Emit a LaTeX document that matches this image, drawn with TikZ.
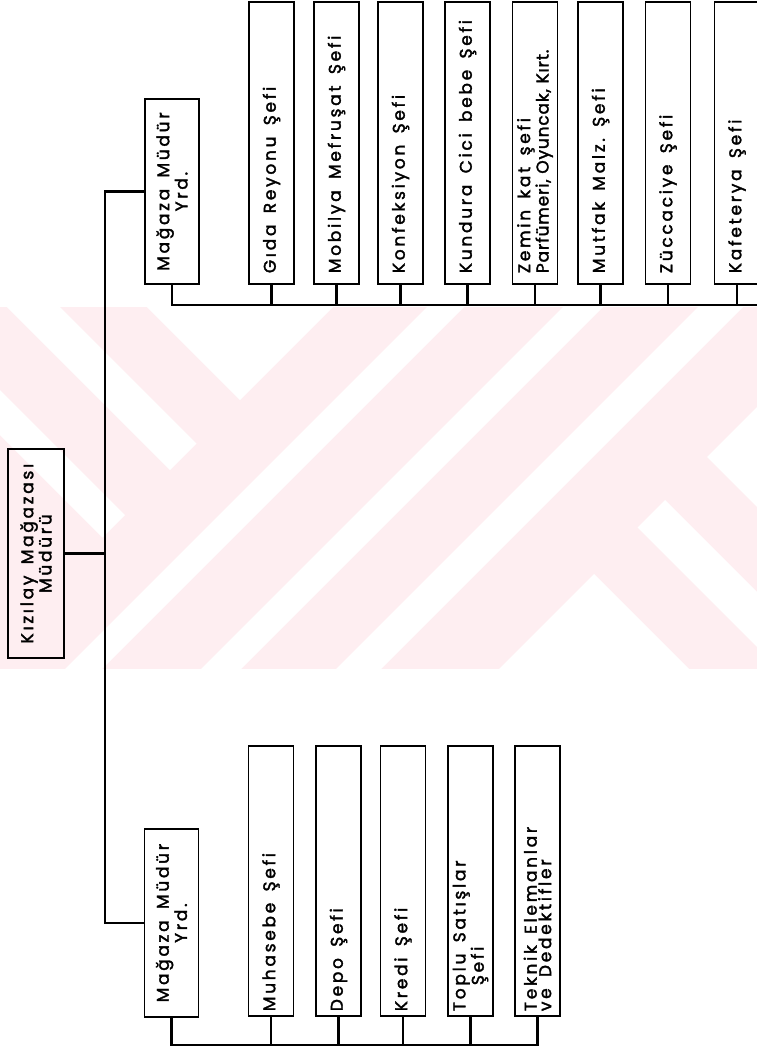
\documentclass[tikz,border=0pt]{standalone}
\usepackage{fontspec}
\newfontfamily\chartfont[LetterSpace=16, FakeBold=2]{Poppins}
\definecolor{wmpink}{RGB}{254,238,241}

\begin{document}
\begin{tikzpicture}[x=1pt, y=-1pt,
  box/.style={draw, line width=1.8pt, rotate=90, anchor=west, inner ysep=2pt,
    font=\chartfont\fontsize{17}{14.5}\selectfont},
  chef/.style={box, minimum width=282, text width=260, minimum height=45, inner xsep=11pt, align=left},
  subchef/.style={box, minimum width=270, text width=260, minimum height=45, inner xsep=5pt, align=left},
  deputy/.style={box, minimum width=#1, text width=#1-14pt, minimum height=54, inner xsep=7pt, align=center},
  link/.style={line width=2.6pt, line cap=rect}]
\useasboundingbox (0,0) rectangle (757,1054);

% watermark
\fill[wmpink] (0,307) rectangle (757,669);
\fill[white] (7,307) -- (60,307) -- (196.5,443.5) -- (170,470) -- cycle;
\fill[white] (147,307) -- (333,307) -- (240,400) -- cycle;
\fill[white] (0,390) -- (125,515) -- (102.5,537.5) -- (0,435) -- cycle;
\fill[white] (427,307) -- (464,307) -- (102,669) -- (65,669) -- cycle;
\fill[white] (563,307) -- (603,307) -- (241,669) -- (201,669) -- cycle;
\fill[white] (698,307) -- (743,307) -- (381,669) -- (336,669) -- cycle;
\fill[white] (757,407) -- (707,457) -- (757,507) -- cycle;
\fill[white] (665,500) -- (757,592) -- (757,647) -- (637.5,527.5) -- cycle;
\fill[white] (499,669) -- (594,574) -- (689,669) -- cycle;

\node[box, minimum width=209, text width=195, minimum height=56, inner xsep=7pt, align=center] (root) at (36,659) {Kızılay\ \ Mağazası\\Müdürü};

\node[deputy=185] (yrdtop) at (172,285) {Mağaza\ \ Müdür\\Yrd.};
\node[chef] (gida) at (271.5,285) {Gıda\ \ Reyonu\ \ Şefi};
\node[chef] (mobilya) at (336.5,285) {Mobilya\ \ Mefruşat\ \ Şefi};
\node[chef] (konf) at (400.5,285) {Konfeksiyon\ \ Şefi};
\node[chef] (kundura) at (467.5,285) {Kundura\ \ Cici\ \ bebe\ \ Şefi};
\node[chef] (zemin) at (535,285) {Zemin\ \ kat\ \ şefi\\{\addfontfeatures{LetterSpace=5}Parfümeri, Oyuncak, Kırt.}};
\node[chef] (mutfak) at (600.5,285) {Mutfak\ \ Malz.\ \ Şefi};
\node[chef] (zucc) at (668,285) {Züccaciye\ \ Şefi};
\node[chef] (kafe) at (737,285) {Kafeterya\ \ Şefi};

\node[deputy=188] (yrdbot) at (171.5,1018) {Mağaza\ \ Müdür\\Yrd.};
\node[subchef] (muhasebe) at (271,1017) {Muhasebe\ \ Şefi};
\node[subchef] (depo) at (338.5,1017) {Depo\ \ Şefi};
\node[subchef] (kredi) at (403,1017) {Kredi\ \ Şefi};
\node[subchef] (toplu) at (470.5,1017) {Toplu\ \ Satışlar\\\hspace*{26pt}Şefi};
\node[subchef] (teknik) at (537.5,1017) {Teknik\ \ Elemanlar\\ve\ \ Dedektifler};

\coordinate (trunk) at (105,555);
\coordinate (topbus) at (760,305);
\coordinate (botbus) at (537.5,1045);

\draw[link] (root.south) -- (root.south -| trunk);
\draw[link] (yrdtop.north) -| (trunk);
\draw[link] (yrdbot.north) -| (trunk);
\draw[link] (yrdtop.west) |- (topbus);
\foreach \n in {gida,mobilya,konf,kundura,zemin,mutfak,zucc,kafe}
  \draw[link] (\n.west) -- (\n.west |- topbus);
\draw[link] (yrdbot.west) |- (botbus);
\foreach \n in {muhasebe,depo,kredi,toplu,teknik}
  \draw[link] (\n.west) -- (\n.west |- botbus);
\end{tikzpicture}
\end{document}
